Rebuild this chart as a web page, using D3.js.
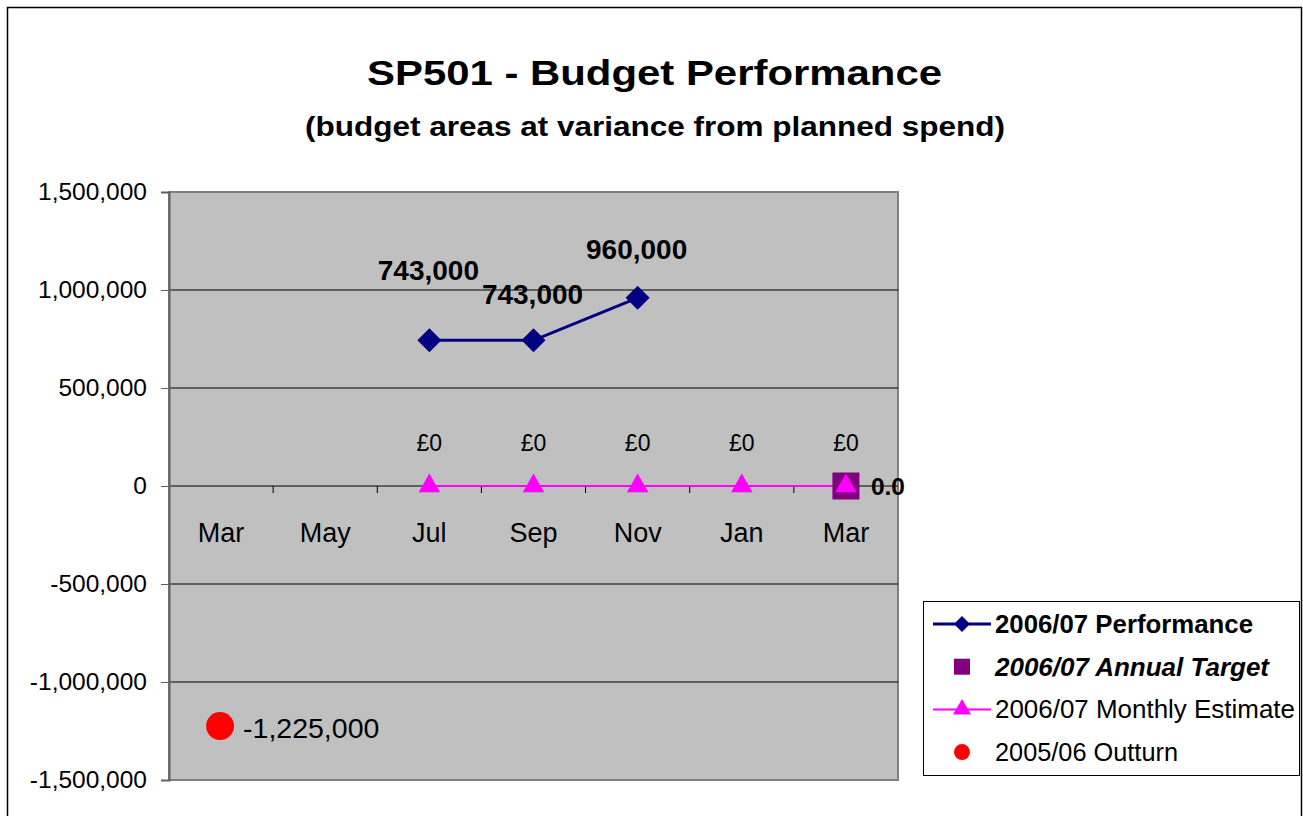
<!DOCTYPE html>
<html><head><meta charset="utf-8">
<script src="https://cdn.jsdelivr.net/npm/d3@7"></script>
<style>body{margin:0;background:#fff}svg{display:block;font-family:"Liberation Sans",Arial,sans-serif}</style>
</head><body>
<svg id="c" width="1303" height="816"></svg>
<script>
const categories = ["Mar","May","Jul","Sep","Nov","Jan","Mar "];
const performance = [null,null,743000,743000,960000,null,null];
const monthlyEstimate = [null,null,0,0,0,0,0];
const annualTarget = [null,null,null,null,null,null,0];
const outturn = [-1225000,null,null,null,null,null,null];
const yTicks = [1500000,1000000,500000,0,-500000,-1000000,-1500000];
const perfLabelDy = [0,0,-60,-36,-39,0,0];

const svg = d3.select("#c");
const m={l:169,r:898,t:192,b:780};
svg.append("rect").attr("x",7.5).attr("y",7.5).attr("width",1294).attr("height",820).attr("fill","#fff").attr("stroke","#000").attr("stroke-width",1.5);

svg.append("text").attr("x",654.5).attr("y",85).attr("text-anchor","middle").attr("font-weight","bold").attr("font-size",35)
 .attr("textLength",575).attr("lengthAdjust","spacingAndGlyphs").text("SP501 - Budget Performance");
svg.append("text").attr("x",655).attr("y",136).attr("text-anchor","middle").attr("font-weight","bold").attr("font-size",28)
 .attr("textLength",700).attr("lengthAdjust","spacingAndGlyphs").text("(budget areas at variance from planned spend)");

const x=d3.scaleBand().domain(categories).range([m.l,m.r]);
const y=d3.scaleLinear().domain([-1500000,1500000]).range([m.b,m.t]);
const cx=c=>x(c)+x.bandwidth()/2;

svg.append("rect").attr("x",m.l).attr("y",m.t).attr("width",m.r-m.l).attr("height",m.b-m.t).attr("fill","#c0c0c0").attr("stroke","#808080").attr("stroke-width",2);

svg.append("g").selectAll("line").data(yTicks.filter(v=>v!==1500000&&v!==-1500000)).join("line")
 .attr("x1",m.l).attr("x2",m.r).attr("y1",d=>y(d)).attr("y2",d=>y(d)).attr("stroke","#000").attr("stroke-width",1);

const fmt=d3.format(",");
const ya=svg.append("g").attr("transform",`translate(${m.l},0)`).call(d3.axisLeft(y).tickValues(yTicks).tickSize(8).tickPadding(14).tickFormat(d=>fmt(d).replace("−","-")));
ya.select(".domain").attr("stroke","#606060").attr("stroke-width",2);
ya.selectAll(".tick line").attr("stroke","#606060");
ya.selectAll("text").attr("font-size",24.5).attr("fill","#000").attr("font-family","Liberation Sans, Arial, sans-serif");

const xa=svg.append("g").attr("transform",`translate(0,${y(0)})`).call(d3.axisBottom(x).tickSize(0).tickPadding(37).tickFormat(d=>d.trim()));
xa.select(".domain").remove();
xa.selectAll("text").attr("font-size",27).attr("fill","#000").attr("font-family","Liberation Sans, Arial, sans-serif");
svg.append("g").selectAll("line").data(categories.slice(1)).join("line")
 .attr("x1",d=>x(d)).attr("x2",d=>x(d)).attr("y1",y(0)).attr("y2",y(0)+7).attr("stroke","#000");

const me=categories.map((c,i)=>({c,v:monthlyEstimate[i]})).filter(d=>d.v!==null);
svg.append("path").datum(me).attr("fill","none").attr("stroke","#ff00ff").attr("stroke-width",2)
 .attr("d",d3.line().x(d=>cx(d.c)).y(d=>y(d.v)));

const at=categories.map((c,i)=>({c,v:annualTarget[i]})).filter(d=>d.v!==null);
svg.append("g").selectAll("rect").data(at).join("rect")
 .attr("x",d=>cx(d.c)-13.5).attr("y",d=>y(d.v)-13.5).attr("width",27).attr("height",27).attr("fill","#800080");
svg.append("g").selectAll("text").data(at).join("text")
 .attr("x",d=>cx(d.c)+25).attr("y",d=>y(d.v)+9).attr("font-size",24.5).attr("font-weight","bold").text(d=>d.v.toFixed(1));

svg.append("g").selectAll("path").data(me).join("path")
 .attr("transform",d=>`translate(${cx(d.c)},${y(d.v)})`)
 .attr("d",d3.symbol().type(d3.symbolTriangle).size(200)).attr("fill","#ff00ff");
svg.append("g").selectAll("text").data(me).join("text")
 .attr("x",d=>cx(d.c)).attr("y",d=>y(d.v)-35).attr("text-anchor","middle").attr("font-size",23).text(d=>"£"+d.v);

const pf=categories.map((c,i)=>({c,v:performance[i],dy:perfLabelDy[i]})).filter(d=>d.v!==null);
svg.append("path").datum(pf).attr("fill","none").attr("stroke","#000080").attr("stroke-width",3)
 .attr("d",d3.line().x(d=>cx(d.c)).y(d=>y(d.v)));
svg.append("g").selectAll("path").data(pf).join("path")
 .attr("transform",d=>`translate(${cx(d.c)},${y(d.v)})`)
 .attr("d","M0,-12L12,0L0,12L-12,0Z").attr("fill","#000080");
svg.append("g").selectAll("text").data(pf).join("text")
 .attr("x",d=>cx(d.c)-1).attr("y",d=>y(d.v)+d.dy).attr("text-anchor","middle").attr("font-size",28).attr("font-weight","bold").text(d=>fmt(d.v));

const ot=categories.map((c,i)=>({c,v:outturn[i]})).filter(d=>d.v!==null);
svg.append("g").selectAll("circle").data(ot).join("circle")
 .attr("cx",d=>cx(d.c)-1).attr("cy",d=>y(d.v)).attr("r",14).attr("fill","#ff0000");
svg.append("g").selectAll("text").data(ot).join("text")
 .attr("x",d=>cx(d.c)+22).attr("y",d=>y(d.v)+12).attr("font-size",28.5).text(d=>fmt(d.v).replace("−","-"));

const lg=svg.append("g");
lg.append("rect").attr("x",923.5).attr("y",601.5).attr("width",376).attr("height",174).attr("fill","#fff").attr("stroke","#000").attr("stroke-width",1);
const items=[
 {t:"2006/07 Performance",w:"bold",s:"normal",sym:"diamond",line:"#000080",lw:3,c:"#000080",len:258},
 {t:"2006/07 Annual Target",w:"bold",s:"italic",sym:"square",line:null,c:"#800080",len:274},
 {t:"2006/07 Monthly Estimate",w:"normal",s:"normal",sym:"triangle",line:"#ff00ff",lw:2,c:"#ff00ff",len:300},
 {t:"2005/06 Outturn",w:"normal",s:"normal",sym:"circle",line:null,c:"#ff0000",len:183}];
items.forEach((it,i)=>{
 const yy=624+i*42.7, sx=962;
 if(it.line) lg.append("line").attr("x1",933).attr("x2",991).attr("y1",yy).attr("y2",yy).attr("stroke",it.line).attr("stroke-width",it.lw);
 if(it.sym==="diamond") lg.append("path").attr("transform",`translate(${sx},${yy})`).attr("d","M0,-8L8,0L0,8L-8,0Z").attr("fill",it.c);
 if(it.sym==="square") lg.append("rect").attr("x",sx-8).attr("y",yy-8).attr("width",16).attr("height",16).attr("fill",it.c);
 if(it.sym==="triangle") lg.append("path").attr("transform",`translate(${sx},${yy})`).attr("d",d3.symbol().type(d3.symbolTriangle).size(140)).attr("fill",it.c);
 if(it.sym==="circle") lg.append("circle").attr("cx",sx).attr("cy",yy).attr("r",8).attr("fill",it.c);
 lg.append("text").attr("x",995).attr("y",yy+9).attr("font-size",25).attr("font-weight",it.w).attr("font-style",it.s)
   .attr("textLength",it.len).attr("lengthAdjust","spacingAndGlyphs").text(it.t);
});
</script>
</body></html>
